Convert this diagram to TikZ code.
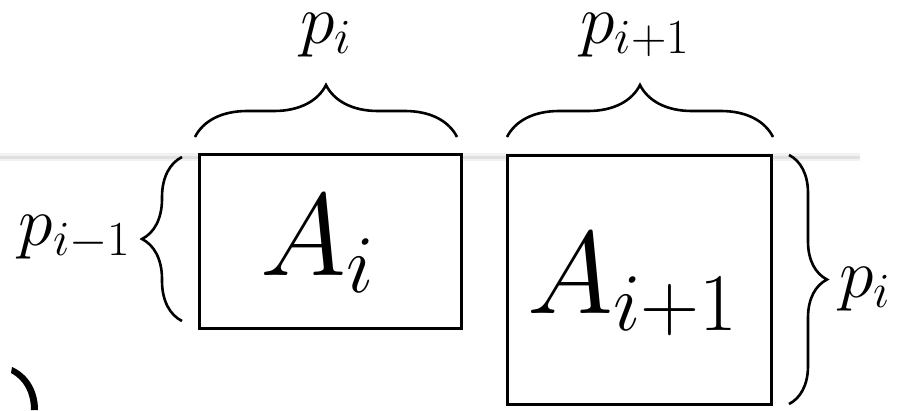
\RequirePackage{fix-cm}
\documentclass[tikz,border=0pt]{standalone}
\usepackage{tikz}
\usetikzlibrary{decorations.pathreplacing,calc,positioning}

\tikzset{
  mat/.style={draw, line width=3pt, fill=white, inner sep=0pt, outer sep=0pt},
  brc/.style={decorate, decoration={brace, amplitude=#1}, line width=2.6pt},
  dimlab/.style={font=\fontsize{70}{84}\selectfont, inner sep=0pt},
  matlab/.style={font=\fontsize{117}{140}\selectfont, inner sep=0pt}
}

\begin{document}
\begin{tikzpicture}[x=1pt,y=-1pt]
    \useasboundingbox (0,0) rectangle (899,410);
    % faint rule behind the matrices
    \draw[line width=8pt, black!5] (0,157) -- (860,157);
    \draw[line width=3pt, black!12] (0,157) -- (860,157);

    % the two matrices
    \node[mat, minimum width=262pt, minimum height=174pt] (Ai) at (330,241) {};
    \node[mat, minimum width=264pt, minimum height=249pt] (Ai1) at (639,279.5) {};
    \node[matlab, anchor=base west] (Ailab) at (260,275) {$A_i$};
    \node[matlab, anchor=base west] (Ai1lab) at (527,313) {$A_{i+1}$};

    % column sizes
    \draw[brc=52pt] ($(Ai.north west)+(-4,-17)$) -- ($(Ai.north east)+(-4,-17)$)
        node[dimlab, midway, anchor=base, yshift=94pt] (pcol1) {$p_i$};
    \draw[brc=52pt] ($(Ai1.north west)+(0,-18)$) -- ($(Ai1.north east)+(2,-18)$)
        node[dimlab, midway, anchor=base, xshift=-5pt, yshift=94pt] (pcol2) {$p_{i+1}$};

    % row sizes
    \draw[brc=40pt] ($(Ai.south west)+(-17,-7)$) -- ($(Ai.north west)+(-17,3)$)
        node[dimlab, midway, anchor=base east, xshift=-50pt, yshift=-6pt] (prow1) {$p_{i-1}$};
    \draw[brc=38pt] ($(Ai1.north east)+(18,0)$) -- ($(Ai1.south east)+(18,0)$)
        node[dimlab, midway, anchor=base west, xshift=49pt, yshift=-17.5pt] (prow2) {$p_i$};

    % cut-off parenthesis
    \fill (12,367) .. controls (28,374) and (38,390) .. (38,410) -- (31,410)
        .. controls (31,393) and (24,380) .. (11,373) -- cycle;
\end{tikzpicture}
\end{document}
